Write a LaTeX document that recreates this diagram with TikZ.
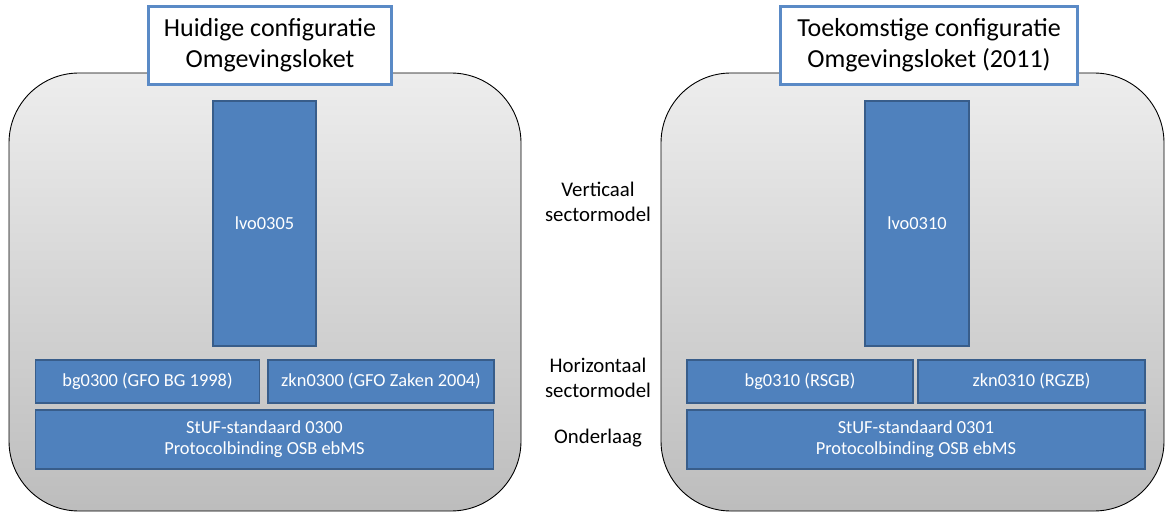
\documentclass[tikz,border=0pt]{standalone}
\usepackage{fontspec}
\setmainfont{Carlito}
\definecolor{boxblue}{HTML}{4F81BD}
\definecolor{boxedge}{HTML}{385D8A}
\definecolor{titleedge}{HTML}{5A8AC6}
\begin{document}
\begin{tikzpicture}[x=1pt,y=-1pt,
  panel/.style={draw=black,line width=0.9pt,rounded corners=70pt,top color=black!7,bottom color=black!26},
  titlebox/.style={draw=titleedge,line width=2.4pt,fill=white,inner sep=0pt,align=center,font=\fontsize{26}{31}\selectfont},
  bluebox/.style={draw=boxedge,line width=1.8pt,fill=boxblue,inner sep=0pt,align=center,text=white,font=\fontsize{18.4}{21}\selectfont},
  sidelabel/.style={align=center,font=\fontsize{20.8}{25}\selectfont}]
\useasboundingbox (0,0) rectangle (1166,513);
% panels
\path[panel] (9,73) rectangle (521,511);
\path[panel] (661,73) rectangle (1164,511);
% titles
\node[titlebox,minimum width=243pt,minimum height=78pt] (t1) at (270,45.5) {Huidige configuratie\\Omgevingsloket};
\node[titlebox,minimum width=297pt,minimum height=78pt] (t2) at (929,45.5) {Toekomstige configuratie\\Omgevingsloket (2011)};
% left
\node[bluebox,minimum width=103pt,minimum height=245pt] (lvoA) at (264.5,223.5) {lvo0305};
\node[bluebox,minimum width=224pt,minimum height=43pt] (bgA) at (147.5,381.5) {bg0300 (GFO BG 1998)};
\node[bluebox,minimum width=226pt,minimum height=43pt] (zknA) at (381,381.5) {zkn0300 (GFO Zaken 2004)};
\node[bluebox,minimum width=458pt,minimum height=59pt] (stufA) at (264.5,439.5) {StUF-standaard 0300\\Protocolbinding OSB ebMS};
% right
\node[bluebox,minimum width=104pt,minimum height=245pt] (lvoB) at (917,223.5) {lvo0310};
\node[bluebox,minimum width=226pt,minimum height=43pt] (bgB) at (800,381.5) {bg0310 (RSGB)};
\node[bluebox,minimum width=227pt,minimum height=43pt] (zknB) at (1031.5,381.5) {zkn0310 (RGZB)};
\node[bluebox,minimum width=458pt,minimum height=59pt] (stufB) at (916,439.5) {StUF-standaard 0301\\Protocolbinding OSB ebMS};
% side labels
\node[sidelabel] (lv) at (598,202) {Verticaal\\sectormodel};
\node[sidelabel] (lh) at (598,378) {Horizontaal\\sectormodel};
\node[sidelabel] (lo) at (598,438) {Onderlaag};
\end{tikzpicture}
\end{document}
